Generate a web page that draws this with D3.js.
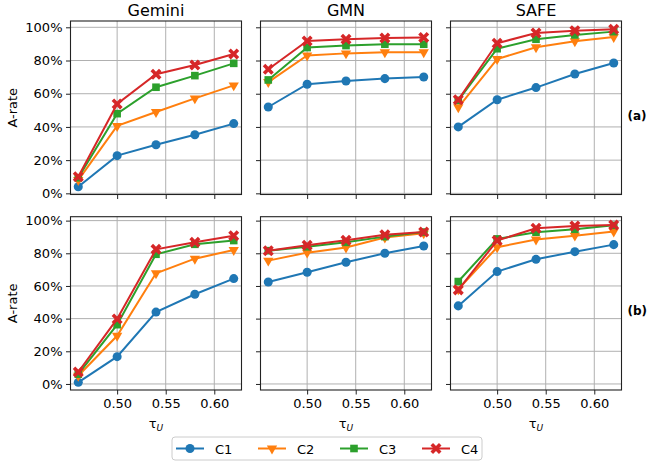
<!DOCTYPE html>
<html>
<head>
<meta charset="utf-8">
<script src="https://cdn.jsdelivr.net/npm/d3@7"></script>
<style>
body { margin: 0; background: #fff; }
text { font-family: "DejaVu Sans", sans-serif; fill: #000; }
</style>
</head>
<body>
<script>
// Data //////////////////////////////////////////////
var taus = [0.46, 0.50, 0.54, 0.58, 0.62];
var methods = ["Gemini", "GMN", "SAFE"];
var seriesNames = ["C1", "C2", "C3", "C4"];
var rowLabels = ["(a)", "(b)"];
var xTicks = [0.50, 0.55, 0.60];
var yTicks = [0, 20, 40, 60, 80, 100];

// A-rate in %, one array per series C1..C4
var aGemini = [
	[4, 22.7, 29.3, 35.3, 42],
	[8, 40.6, 49, 57.2, 65],
	[9.4, 48, 63.9, 70.9, 78.3],
	[10, 53.8, 71.7, 77.3, 83.9]
];
var aGMN = [
	[52, 65.7, 67.7, 69.1, 70.1],
	[67, 83, 84.3, 85, 85],
	[68.3, 87.8, 89, 89.8, 89.8],
	[74.7, 91.8, 92.8, 93.6, 93.8]
];
var aSAFE = [
	[40, 56.4, 63.7, 71.9, 78.5],
	[51.8, 80.9, 88, 91.6, 94.2],
	[56, 87.1, 92.8, 95.4, 97.4],
	[56.4, 90.4, 96.6, 98, 98.8]
];
var bGemini = [
	[1, 16.7, 44, 54.9, 64.5],
	[5, 29.5, 67.8, 76.7, 82],
	[6, 36.3, 79.4, 85.5, 87.8],
	[7.3, 39.8, 82.4, 86.7, 90.8]
];
var bGMN = [
	[62.4, 68.4, 74.5, 80, 84.5],
	[75.5, 80.4, 83.5, 89.6, 92.2],
	[81.6, 84, 86.7, 90.2, 93],
	[81.6, 84.9, 88, 91.4, 93]
];
var bSAFE = [
	[47.8, 68.8, 76.3, 81, 85.3],
	[58, 83.7, 88.4, 90.8, 93.3],
	[62.7, 88.8, 92.9, 94.7, 97.1],
	[57.6, 87.8, 95.3, 96.7, 97.3]
];
var rows = [[aGemini, aGMN, aSAFE], [bGemini, bGMN, bSAFE]];

var colors = ["#1f77b4", "#ff7f0e", "#2ca02c", "#d62728"];

// Layout ////////////////////////////////////////////
var W = 647, H = 461;
var panelLeft = [70.5, 260.5, 450.5];
var panelW = 171;
var rowTop = [21, 216.7];
var rowBottom = [194.5, 390];
var yDomains = [[-0.7, 103.8], [-3.7, 102.4]];

var svg = d3.select("body")
			.append("svg")
				.attr("width", W)
				.attr("height", H);

// filled "X" marker like matplotlib's
var symbolX = {
	draw: function(ctx, size)
	{
		var r = Math.sqrt(size) / 2; // half extent
		var w = r * 0.42;            // half arm width
		var a = w / Math.SQRT2;
		var pts = [
			[0, -2 * a], [r - a, -r - a], [r + a, -r + a], [2 * a, 0],
			[r + a, r - a], [r - a, r + a], [0, 2 * a], [-r + a, r + a],
			[-r - a, r - a], [-2 * a, 0], [-r - a, -r + a], [-r + a, -r - a]
		];
		ctx.moveTo(pts[0][0], pts[0][1]);
		for (var i = 1; i < pts.length; i++) ctx.lineTo(pts[i][0], pts[i][1]);
		ctx.closePath();
	}
};

// markers
var symbols = [
	d3.symbol().type(d3.symbolCircle).size(64),
	d3.symbol().type(d3.symbolTriangle).size(46),
	d3.symbol().type(d3.symbolSquare).size(58),
	d3.symbol().type(symbolX).size(72)
];
var symRotate = [0, 180, 0, 0];

var xScale = d3.scaleLinear()
				.domain([0.452, 0.628])
				.range([0, panelW]);

rows.forEach(function(row, r)
{
	var ph = rowBottom[r] - rowTop[r];
	var yScale = d3.scaleLinear()
					.domain(yDomains[r])
					.range([ph, 0]);

	row.forEach(function(panelData, c)
	{
		var g = svg.append("g")
					.attr("transform", "translate(" + panelLeft[c] + "," + rowTop[r] + ")");

		// grid
		g.selectAll(".gx").data(xTicks).enter().append("line")
			.attr("x1", function(d){ return xScale(d); })
			.attr("x2", function(d){ return xScale(d); })
			.attr("y1", 0).attr("y2", ph)
			.attr("stroke", "#b0b0b0").attr("stroke-width", 1);
		g.selectAll(".gy").data(yTicks).enter().append("line")
			.attr("y1", function(d){ return yScale(d); })
			.attr("y2", function(d){ return yScale(d); })
			.attr("x1", 0).attr("x2", panelW)
			.attr("stroke", "#b0b0b0").attr("stroke-width", 1);

		// axes
		var xAxis = d3.axisBottom(xScale)
					.tickValues(xTicks)
					.tickSize(4.5)
					.tickPadding(4)
					.tickFormat(r == 1 ? d3.format(".2f") : "");
		var gx = g.append("g")
			.attr("transform", "translate(0," + ph + ")")
			.call(xAxis);

		var yAxis = d3.axisLeft(yScale)
					.tickValues(yTicks)
					.tickSize(4.5)
					.tickPadding(3.5)
					.tickFormat(c == 0 ? function(d){ return d + "%"; } : "");
		var gy = g.append("g").call(yAxis);

		[gx, gy].forEach(function(a)
		{
			a.select(".domain").remove();
			a.selectAll(".tick line").attr("stroke", "#222").attr("stroke-width", 1);
			a.selectAll(".tick text").style("font-size", "13px").style("font-family", "DejaVu Sans").attr("fill", "#222");
		});

		// lines + markers
		panelData.forEach(function(vals, s)
		{
			var line = d3.line()
						.x(function(d, i){ return xScale(taus[i]); })
						.y(function(d){ return yScale(d); });
			g.append("path")
				.datum(vals)
				.attr("d", line)
				.attr("fill", "none")
				.attr("stroke", colors[s])
				.attr("stroke-width", 2);
			g.selectAll(".m" + s).data(vals).enter().append("path")
				.attr("d", symbols[s])
				.attr("transform", function(d, i){
					return "translate(" + xScale(taus[i]) + "," + yScale(d) + ") rotate(" + symRotate[s] + ")";
				})
				.attr("fill", colors[s]);
		});

		// frame
		g.append("rect")
			.attr("width", panelW).attr("height", ph)
			.attr("fill", "none")
			.attr("stroke", "#222").attr("stroke-width", 1.1);

		if (r == 0)
		{
			g.append("text")
				.attr("x", panelW / 2).attr("y", -5)
				.attr("text-anchor", "middle")
				.style("font-size", "16px")
				.text(methods[c]);
		}
		if (r == 1)
		{
			var xl = g.append("text")
				.attr("x", panelW / 2).attr("y", ph + 38)
				.attr("text-anchor", "middle")
				.style("font-size", "13px");
			xl.append("tspan").text("τ");
			xl.append("tspan").attr("dy", 3).style("font-size", "9px").style("font-style", "italic").text("U");
		}
		if (c == 0)
		{
			g.append("text")
				.attr("transform", "translate(-54," + (ph / 2) + ") rotate(-90)")
				.attr("text-anchor", "middle")
				.style("font-size", "13px")
				.text("A-rate");
		}
		if (c == 2)
		{
			g.append("text")
				.attr("x", panelW + 6).attr("y", ph / 2 + 12)
				.style("font-size", "12px")
				.style("font-weight", "bold")
				.text(rowLabels[r]);
		}
	});
});

// Legend ////////////////////////////////////////////
var legend = svg.append("g").attr("transform", "translate(172,437)");
legend.append("rect")
	.attr("width", 310).attr("height", 23)
	.attr("rx", 3)
	.attr("fill", "#fff")
	.attr("stroke", "#ccc");

seriesNames.forEach(function(name, s)
{
	var lg = legend.append("g").attr("transform", "translate(" + (4 + s * 82) + ",11.5)");
	lg.append("line")
		.attr("x1", 0).attr("x2", 28)
		.attr("stroke", colors[s]).attr("stroke-width", 2);
	lg.append("path")
		.attr("d", symbols[s])
		.attr("transform", "translate(14,0) rotate(" + symRotate[s] + ")")
		.attr("fill", colors[s]);
	lg.append("text")
		.attr("x", 39).attr("y", 5)
		.style("font-size", "13px")
		.text(name);
});
</script>
</body>
</html>
